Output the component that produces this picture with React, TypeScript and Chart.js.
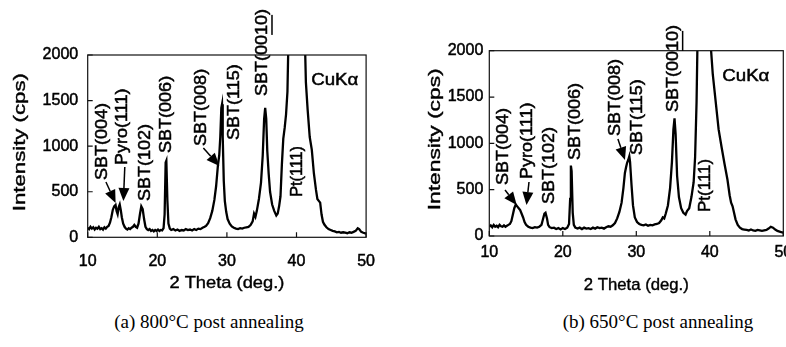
import React, { useEffect, useRef } from "react";
import { Chart, registerables } from "chart.js";
Chart.register(...registerables);

// ---------- data (2θ in degrees, intensity in cps) ----------
const thetaA = [
  10.0, 10.2, 10.4, 10.6, 10.8, 11.0, 11.2, 11.4, 11.6, 11.8, 12.0, 12.2, 12.4, 12.6, 12.8,
  13.0, 13.2, 13.4, 13.6, 13.8, 14.0, 14.15, 14.3, 14.45, 14.6, 14.75, 14.9, 15.1, 15.3, 15.5,
  15.7, 15.9, 16.1, 16.3, 16.5, 16.7, 16.9, 17.1, 17.3, 17.5, 17.7, 17.9, 18.1, 18.3, 18.5,
  18.7, 18.9, 19.1, 19.3, 19.5, 19.7, 19.9, 20.1, 20.3, 20.5, 20.7, 20.9, 21.05, 21.2, 21.3,
  21.45, 21.6, 21.8, 22.0, 22.3, 22.6, 22.9, 23.2, 23.5, 23.8, 24.1, 24.4, 24.7, 25.0, 25.3,
  25.6, 25.9, 26.2, 26.5, 26.8, 27.0, 27.3, 27.6, 27.9, 28.2, 28.45, 28.7, 28.9, 29.05, 29.2,
  29.3, 29.4, 29.55, 29.7, 29.9, 30.1, 30.4, 30.7, 31.0, 31.3, 31.6, 31.9, 32.2, 32.5, 32.8,
  33.1, 33.4, 33.7, 33.9, 34.1, 34.3, 34.6, 34.9, 35.15, 35.35, 35.5, 35.65, 35.8, 36.0, 36.2,
  36.5, 36.8, 37.1, 37.3, 37.5, 37.7, 37.9, 38.1, 38.3, 38.5, 38.7, 38.95, 40.0, 41.1, 41.35,
  41.6, 41.9, 42.2, 42.5, 42.8, 43.0, 43.2, 43.4, 43.6, 43.8, 44.0, 44.3, 44.6, 44.9, 45.2,
  45.5, 45.8, 46.1, 46.4, 46.7, 47.0, 47.3, 47.6, 47.9, 48.2, 48.5, 48.8, 49.0, 49.3, 49.6,
  50.0,
];
const intensityA = [
  105, 90, 115, 95, 110, 85, 105, 95, 115, 90, 100, 85, 110, 95, 115,
  125, 160, 220, 300, 340, 355, 290, 255, 330, 360, 300, 220, 150, 115, 95,
  85, 100, 90, 105, 115, 135, 115, 105, 150, 250, 340, 310, 200, 115, 90,
  80, 90, 70, 80, 65, 80, 70, 85, 70, 80, 75, 100, 250, 820, 840,
  400, 150, 95, 80, 90, 75, 85, 70, 80, 75, 90, 80, 85, 75, 90,
  80, 95, 90, 105, 115, 125, 155, 210, 290, 410, 560, 780, 900, 1100, 1420,
  1460, 1100, 620, 400, 280, 200, 150, 120, 105, 95, 90, 100, 95, 105, 110,
  115, 135, 175, 260, 225, 290, 420, 600, 900, 1300, 1420, 1300, 950, 700, 500,
  360, 290, 240, 260, 340, 450, 800, 1080, 1200, 1350, 1600, 2600, 6000, 2500, 1700,
  1400, 1100, 960, 700, 520, 420, 400, 380, 250, 170, 140, 110, 90, 80, 70,
  65, 55, 60, 50, 55, 50, 45, 55, 50, 60, 70, 100, 90, 60, 50,
  40,
];

const thetaB = [
  10.0, 10.2, 10.4, 10.6, 10.8, 11.0, 11.2, 11.4, 11.6, 11.8, 12.0, 12.2, 12.4, 12.6, 12.8,
  13.0, 13.2, 13.4, 13.6, 13.8, 14.0, 14.2, 14.4, 14.6, 14.8, 15.0, 15.3, 15.6, 15.9, 16.2,
  16.5, 16.8, 17.1, 17.3, 17.5, 17.65, 17.85, 18.0, 18.2, 18.5, 18.8, 19.1, 19.4, 19.7, 20.0,
  20.3, 20.6, 20.85, 21.0, 21.1, 21.2, 21.35, 21.5, 21.7, 22.0, 22.3, 22.6, 22.9, 23.2, 23.5,
  23.8, 24.1, 24.4, 24.7, 25.0, 25.3, 25.6, 25.9, 26.2, 26.5, 26.8, 27.1, 27.4, 27.7, 28.0,
  28.25, 28.45, 28.6, 28.75, 28.9, 29.05, 29.15, 29.35, 29.55, 29.8, 30.1, 30.4, 30.7, 31.0, 31.3,
  31.6, 31.9, 32.2, 32.5, 32.8, 33.1, 33.4, 33.6, 33.8, 34.0, 34.3, 34.6, 34.85, 35.05, 35.2,
  35.35, 35.55, 35.8, 36.1, 36.4, 36.7, 36.9, 37.2, 37.5, 37.8, 38.0, 38.2, 38.5, 39.3, 40.0,
  40.4, 40.8, 41.2, 41.6, 42.0, 42.4, 42.7, 42.9, 43.1, 43.3, 43.5, 43.8, 44.1, 44.4, 44.7,
  45.0, 45.3, 45.6, 45.9, 46.2, 46.5, 46.8, 47.1, 47.4, 47.7, 48.0, 48.3, 48.6, 48.9, 49.2,
  49.6, 50.0,
];
const intensityB = [
  100, 115, 95, 120, 100, 110, 95, 120, 105, 100, 115, 100, 110, 120, 130,
  160, 230, 300, 340, 320, 300, 280, 240, 200, 150, 120, 100, 90, 85, 95,
  90, 100, 120, 180, 240, 250, 190, 120, 95, 85, 90, 75, 85, 70, 85,
  75, 90, 130, 400, 760, 700, 250, 120, 90, 80, 90, 75, 90, 80, 85,
  75, 90, 80, 95, 85, 90, 80, 95, 105, 100, 115, 140, 190, 260, 360,
  520, 680, 740, 790, 820, 860, 800, 550, 330, 200, 150, 130, 120, 115, 125,
  110, 120, 115, 125, 130, 140, 170, 200, 190, 240, 330, 520, 800, 1150, 1270,
  1100, 650, 420, 300, 250, 230, 270, 300, 420, 580, 850, 1450, 3000, 6000, 2200,
  1750, 1450, 1150, 960, 780, 610, 440, 360, 320, 250, 180, 120, 90, 75, 70,
  65, 60, 70, 60, 55, 65, 60, 55, 60, 65, 80, 100, 90, 70, 55,
  45, 35,
];

const xTickValues = [10, 20, 30, 40, 50];
const yTickValues = [0, 500, 1000, 1500, 2000];
const peakNames = ["SBT(004)", "Pyro(111)", "SBT(102)", "SBT(006)", "SBT(008)", "SBT(115)", "SBT(0010)", "Pt(111)"];
const radiation = "CuKα";
const xTitle = "2 Theta (deg.)";
const yTitle = "Intensity (cps)";
const captions = ["(a) 800°C post annealing", "(b) 650°C post annealing"];

// ---------- annotation placement (data coordinates) ----------
type Lab = { text: string; x: number; y: number; rot: boolean; sx: number; ul?: [string, string] };
type Arr = { x0: number; y0: number; x1: number; y1: number };

const labelsA: Lab[] = [
  { text: peakNames[0], x: 12.13, y: 628, rot: true, sx: 1.06 },
  { text: peakNames[1], x: 14.99, y: 793, rot: true, sx: 1.06 },
  { text: peakNames[2], x: 18.33, y: 398, rot: true, sx: 1.06 },
  { text: peakNames[3], x: 21.25, y: 925, rot: true, sx: 1.06 },
  { text: peakNames[4], x: 26.34, y: 1002, rot: true, sx: 1.06 },
  { text: peakNames[5], x: 31.0, y: 1067, rot: true, sx: 1.06 },
  { text: peakNames[6], x: 35.1, y: 1550, rot: true, sx: 1.06, ul: ["SBT(00", "10"] },
  { text: peakNames[7], x: 40.17, y: 446, rot: true, sx: 0.95 },
  { text: radiation, x: 45.5, y: 1717, rot: false, sx: 1.1 },
];
const arrowsA: Arr[] = [
  { x0: 12.62, y0: 607, x1: 14.01, y1: 376 },
  { x0: 15.33, y0: 771, x1: 15.13, y1: 398 },
  { x0: 26.62, y0: 980, x1: 28.91, y1: 782 },
];
const labelsB: Lab[] = [
  { text: peakNames[0], x: 11.86, y: 550, rot: true, sx: 1.06 },
  { text: peakNames[1], x: 15.13, y: 615, rot: true, sx: 1.06 },
  { text: peakNames[2], x: 18.19, y: 345, rot: true, sx: 1.06 },
  { text: peakNames[3], x: 21.66, y: 820, rot: true, sx: 1.06 },
  { text: peakNames[4], x: 27.1, y: 1079, rot: true, sx: 1.06 },
  { text: peakNames[5], x: 30.1, y: 874, rot: true, sx: 1.06 },
  { text: peakNames[6], x: 35.0, y: 1338, rot: true, sx: 1.06, ul: ["SBT(00", "10"] },
  { text: peakNames[7], x: 39.35, y: 259, rot: true, sx: 1.0 },
  { text: radiation, x: 44.9, y: 1719, rot: false, sx: 1.1 },
];
const arrowsB: Arr[] = [
  { x0: 12.14, y0: 496, x1: 13.73, y1: 334 },
  { x0: 15.4, y0: 583, x1: 15.06, y1: 334 },
  { x0: 27.5, y0: 1047, x1: 28.46, y1: 820 },
];

type PanelCfg = {
  theta: number[];
  intensity: number[];
  labels: Lab[];
  arrows: Arr[];
  width: number;
  height: number;
  padTop: number;
  padRight: number;
  yAxisW: number;
  xAxisH: number;
  yTickPad: number;
  xTickPad: number;
  yTitleX: number;
  yTitleLen: number;
  xTitleY: number;
  xTitleLen: number;
};

const FONT = '"Liberation Sans", Arial, sans-serif';

function makePlugin(cfg: PanelCfg) {
  return {
    id: "xrdDecor",
    afterDraw(chart: any) {
      const ctx: CanvasRenderingContext2D = chart.ctx;
      const xs = chart.scales.x;
      const ys = chart.scales.y;
      const a = chart.chartArea;
      ctx.save();
      // box
      ctx.strokeStyle = "#111";
      ctx.lineWidth = 1.2;
      ctx.strokeRect(a.left, a.top, a.right - a.left, a.bottom - a.top);
      // inward ticks
      ctx.beginPath();
      yTickValues.forEach((v) => {
        const p = ys.getPixelForValue(v);
        ctx.moveTo(a.left, p);
        ctx.lineTo(a.left + 5, p);
      });
      xTickValues.forEach((v) => {
        const p = xs.getPixelForValue(v);
        ctx.moveTo(p, a.bottom);
        ctx.lineTo(p, a.bottom - 5);
      });
      ctx.stroke();

      // peak labels
      const fs = 17;
      ctx.fillStyle = "#000";
      ctx.strokeStyle = "#000";
      ctx.font = `${fs}px ${FONT}`;
      cfg.labels.forEach((l) => {
        const px = xs.getPixelForValue(l.x);
        const py = ys.getPixelForValue(l.y);
        ctx.save();
        ctx.translate(px, py);
        if (l.rot) ctx.rotate(-Math.PI / 2);
        ctx.scale(l.sx, 1);
        ctx.textBaseline = "middle";
        ctx.textAlign = l.rot ? "left" : "center";
        ctx.lineWidth = 0.5;
        ctx.fillText(l.text, 0, 0);
        ctx.strokeText(l.text, 0, 0);
        if (l.ul) {
          const pre = ctx.measureText(l.ul[0]).width;
          const w = ctx.measureText(l.ul[1]).width;
          ctx.fillRect(pre, fs * 0.52, w, 1.5);
        }
        ctx.restore();
      });

      // arrows
      cfg.arrows.forEach((ar) => {
        const x0 = xs.getPixelForValue(ar.x0);
        const y0 = ys.getPixelForValue(ar.y0);
        const x1 = xs.getPixelForValue(ar.x1);
        const y1 = ys.getPixelForValue(ar.y1);
        const ang = Math.atan2(y1 - y0, x1 - x0);
        const hl = 13;
        const hw = 5.5;
        const bx = x1 - hl * Math.cos(ang);
        const by = y1 - hl * Math.sin(ang);
        ctx.beginPath();
        ctx.lineWidth = 1.5;
        ctx.moveTo(x0, y0);
        ctx.lineTo(bx, by);
        ctx.stroke();
        ctx.beginPath();
        ctx.moveTo(x1, y1);
        ctx.lineTo(bx + hw * Math.sin(ang), by - hw * Math.cos(ang));
        ctx.lineTo(bx - hw * Math.sin(ang), by + hw * Math.cos(ang));
        ctx.closePath();
        ctx.fill();
      });

      // axis titles
      ctx.font = `17px ${FONT}`;
      ctx.textBaseline = "middle";
      ctx.textAlign = "center";
      ctx.lineWidth = 0.4;
      const yw = ctx.measureText(yTitle).width;
      ctx.save();
      ctx.translate(cfg.yTitleX, (a.top + a.bottom) / 2 - 4);
      ctx.rotate(-Math.PI / 2);
      ctx.scale(cfg.yTitleLen / yw, 1);
      ctx.fillText(yTitle, 0, 0);
      ctx.strokeText(yTitle, 0, 0);
      ctx.restore();
      const xw = ctx.measureText(xTitle).width;
      ctx.save();
      ctx.translate((a.left + a.right) / 2, cfg.xTitleY);
      ctx.scale(cfg.xTitleLen / xw, 1);
      ctx.fillText(xTitle, 0, 0);
      ctx.strokeText(xTitle, 0, 0);
      ctx.restore();
      ctx.restore();
    },
  };
}

function Panel({ cfg, left }: { cfg: PanelCfg; left: number }) {
  const ref = useRef<HTMLCanvasElement | null>(null);
  useEffect(() => {
    if (!ref.current) return;
    const tickFont = { family: FONT, size: 16 };
    const tickOpts = {
      font: tickFont,
      color: "#000",
      textStrokeColor: "#000",
      textStrokeWidth: 0.5,
      autoSkip: false,
      callback: (v: any) => String(v),
    };
    const chart = new Chart(ref.current, {
      type: "line",
      data: {
        datasets: [
          {
            data: cfg.theta.map((t, i) => ({ x: t, y: cfg.intensity[i] })),
            borderColor: "#000",
            borderWidth: 2.3,
            pointRadius: 0,
            fill: false,
            tension: 0,
          },
        ],
      },
      options: {
        responsive: false,
        animation: false,
        events: [],
        layout: { padding: { left: 0, top: cfg.padTop, right: cfg.padRight, bottom: 0 } },
        plugins: { legend: { display: false }, tooltip: { enabled: false } },
        scales: {
          x: {
            type: "linear",
            min: 10,
            max: 50,
            afterBuildTicks: (s: any) => {
              s.ticks = xTickValues.map((v) => ({ value: v }));
            },
            ticks: { ...tickOpts, padding: cfg.xTickPad, maxRotation: 0 },
            grid: { display: false, drawTicks: false },
            border: { display: false },
            afterFit: (s: any) => {
              s.height = cfg.xAxisH;
            },
          },
          y: {
            type: "linear",
            min: 0,
            max: 2000,
            afterBuildTicks: (s: any) => {
              s.ticks = yTickValues.map((v) => ({ value: v }));
            },
            ticks: { ...tickOpts, padding: cfg.yTickPad },
            grid: { display: false, drawTicks: false },
            border: { display: false },
            afterFit: (s: any) => {
              s.width = cfg.yAxisW;
            },
          },
        },
      } as any,
      plugins: [makePlugin(cfg)],
    });
    return () => chart.destroy();
  }, [cfg]);
  return (
    <canvas
      ref={ref}
      width={cfg.width}
      height={cfg.height}
      style={{ position: "absolute", left, top: 0, width: cfg.width, height: cfg.height }}
    />
  );
}

const cfgA: PanelCfg = {
  theta: thetaA,
  intensity: intensityA,
  labels: labelsA,
  arrows: arrowsA,
  width: 390,
  height: 300,
  padTop: 55,
  padRight: 15,
  yAxisW: 87.7,
  xAxisH: 62.7,
  yTickPad: 9.5,
  xTickPad: 15,
  yTitleX: 20,
  yTitleLen: 138,
  xTitleY: 283,
  xTitleLen: 115,
};
const cfgB: PanelCfg = {
  theta: thetaB,
  intensity: intensityB,
  labels: labelsB,
  arrows: arrowsB,
  width: 405,
  height: 300,
  padTop: 50.7,
  padRight: 16.7,
  yAxisW: 94.3,
  xAxisH: 64,
  yTickPad: 6,
  xTickPad: 7,
  yTitleX: 40.5,
  yTitleLen: 142,
  xTitleY: 285,
  xTitleLen: 105,
};

export default function App() {
  const capStyle: React.CSSProperties = {
    position: "absolute",
    top: 309,
    width: 300,
    textAlign: "center",
    fontFamily: '"Liberation Serif", "Times New Roman", serif',
    fontSize: 19,
    lineHeight: "26px",
    color: "#000",
    whiteSpace: "nowrap",
  };
  return (
    <div
      style={{
        position: "absolute",
        left: 0,
        top: 0,
        width: 786,
        height: 347,
        overflow: "hidden",
        background: "#fff",
      }}
    >
      <Panel cfg={cfgA} left={0} />
      <Panel cfg={cfgB} left={395} />
      <div style={{ ...capStyle, left: 209 - 150 }}>{captions[0]}</div>
      <div style={{ ...capStyle, left: 658 - 150 }}>{captions[1]}</div>
    </div>
  );
}
